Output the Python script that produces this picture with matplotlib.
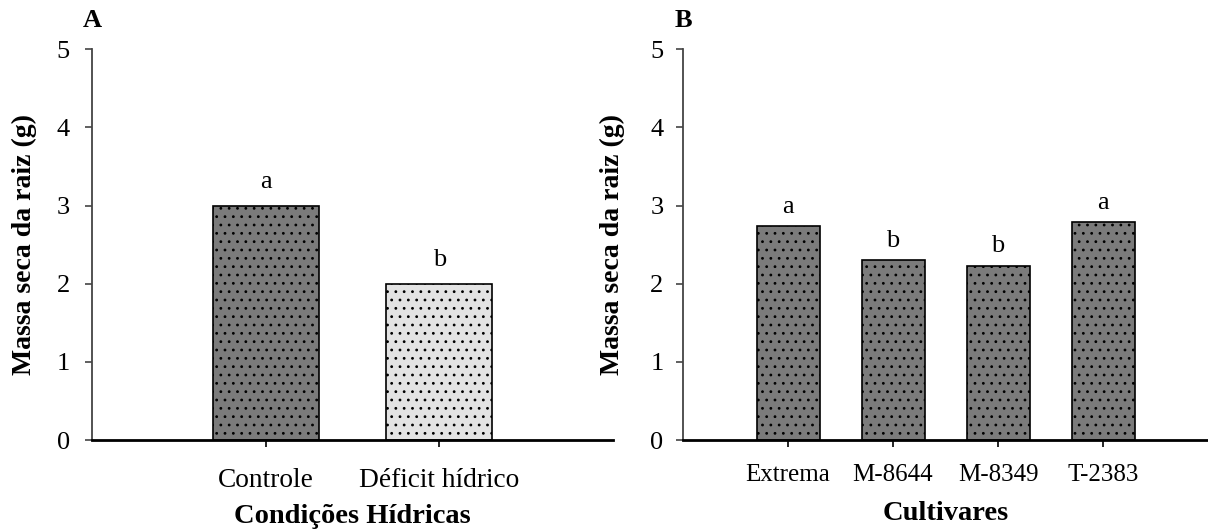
import numpy as np
import matplotlib
matplotlib.use('Agg')
import matplotlib.pyplot as plt

plt.rcParams['font.family'] = ['Liberation Serif', 'DejaVu Serif']
plt.rcParams['hatch.linewidth'] = 0.8

# Painel A - condicoes hidricas
condicoes = ['Controle', 'Déficit hídrico']
massa_cond = [3.0, 2.0]
letras_cond = ['a', 'b']
cores_cond = ['#7b7b7b', '#e3e3e3']

# Painel B - cultivares
cultivares = ['Extrema', 'M-8644', 'M-8349', 'T-2383']
massa_cult = [2.74, 2.30, 2.23, 2.79]
letras_cult = ['a', 'b', 'b', 'a']

yticks = [0, 1, 2, 3, 4, 5]

fig = plt.figure(figsize=(12.08, 5.29), dpi=100)
axA = fig.add_axes([0.0762, 0.168, 0.4313, 0.739])
axB = fig.add_axes([0.5654, 0.168, 0.4346, 0.739])


def estilo(ax, xt_size, ypad, xpad):
    ax.set_ylim(0, 5)
    ax.set_yticks(yticks)
    ax.spines['top'].set_visible(False)
    ax.spines['right'].set_visible(False)
    ax.spines['left'].set_color('#444444')
    ax.spines['left'].set_linewidth(1.3)
    ax.spines['bottom'].set_linewidth(2)
    ax.tick_params(axis='y', direction='out', length=5, width=1.2,
                   labelsize=19, pad=ypad, color='#444444')
    ax.tick_params(axis='x', direction='out', length=5, width=1.2,
                   labelsize=xt_size, pad=xpad)
    ax.set_ylabel('Massa seca da raiz (g)', fontsize=20, fontweight='bold')


x = np.arange(len(condicoes))
axA.bar(x, massa_cond, width=0.61, color=cores_cond, edgecolor='black',
        linewidth=1.2, hatch='..')
for xi, v, l in zip(x, massa_cond, letras_cond):
    axA.text(xi, v + 0.23, l, ha='center', va='baseline', fontsize=19)
axA.set_xlim(-1.0, 2.0)
axA.set_xticks(x)
axA.set_xticklabels(condicoes)
estilo(axA, 19.7, 11, 15)
axA.set_xlabel('Condições Hídricas', fontsize=20.5, fontweight='bold', labelpad=8)
axA.yaxis.set_label_coords(-0.105, 0.5)
axA.text(0.0, 1.045, 'A', transform=axA.transAxes, fontsize=19,
         fontweight='bold', ha='center', va='bottom')

x2 = np.arange(len(cultivares))
axB.bar(x2, massa_cult, width=0.6, color='#7b7b7b', edgecolor='black',
        linewidth=1.2, hatch='..')
for xi, v, l in zip(x2, massa_cult, letras_cult):
    axB.text(xi, v + 0.17, l, ha='center', va='baseline', fontsize=19)
axB.set_xlim(-1.0, 4.0)
axB.set_xticks(x2)
axB.set_xticklabels(cultivares)
estilo(axB, 18, 9, 12)
axB.set_xlabel('Cultivares', fontsize=20.5, fontweight='bold', labelpad=11)
axB.yaxis.set_label_coords(-0.11, 0.5)
axB.text(0.0, 1.045, 'B', transform=axB.transAxes, fontsize=19,
         fontweight='bold', ha='center', va='bottom')

fig.savefig('out.png', dpi=100)
